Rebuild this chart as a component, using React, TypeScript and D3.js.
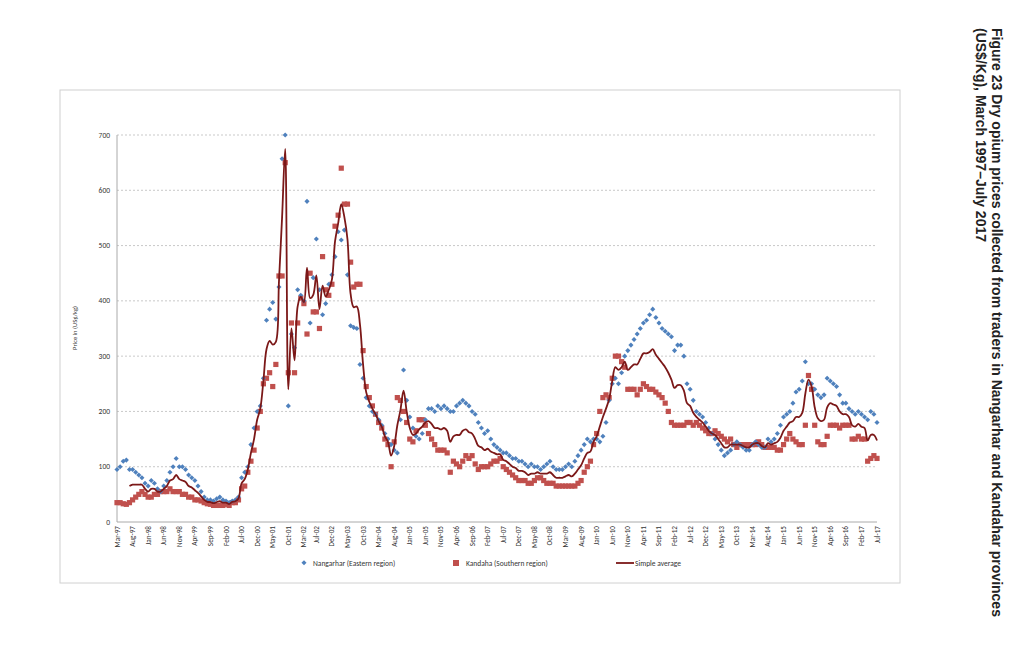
import React from "react";
import * as d3 from "d3";

const nangarhar: (number | null)[] = [
  95,100,110,112,95,95,90,85,80,70,
  65,75,70,60,55,65,75,90,100,115,100,100,
  95,85,80,75,65,55,45,40,40,38,42,45,
  40,38,35,38,40,45,80,90,100,140,170,200,
  210,260,365,385,397,367,425,657,700,210,340,315,
  420,410,400,580,360,442,512,420,375,395,430,447,
  480,525,510,528,447,355,352,350,285,260,225,210,
  200,195,185,175,160,150,140,130,125,185,275,220,
  190,170,155,150,160,185,205,205,200,210,205,210,
  205,200,200,210,215,220,215,210,200,195,180,170,
  160,165,150,140,135,130,125,125,120,115,115,110,
  110,105,100,105,100,100,95,100,105,110,100,95,
  95,95,100,105,100,110,120,130,140,150,145,150,
  150,145,155,180,220,250,260,250,270,300,310,320,
  330,340,350,360,365,375,385,370,360,350,345,340,
  335,310,320,320,300,250,240,220,200,195,190,180,
  170,160,150,140,130,120,125,130,140,145,140,135,
  130,130,140,145,140,135,135,150,145,150,160,175,
  190,195,200,215,235,240,255,290,250,250,240,230,
  225,230,260,255,250,245,230,215,215,205,200,195,
  200,195,190,185,200,195,180,
];
const kandahar: (number | null)[] = [
  35,35,33,32,35,40,45,50,55,50,
  45,45,50,50,55,55,55,60,55,55,55,50,
  50,45,45,40,40,38,35,33,32,30,30,30,
  30,32,30,35,35,40,60,65,90,110,130,170,
  200,250,260,270,245,285,445,445,650,270,360,270,
  360,405,395,340,450,380,380,350,480,420,410,430,
  535,555,640,575,575,470,425,430,430,310,245,225,
  210,195,180,170,150,140,100,145,225,220,200,180,
  150,145,165,185,185,175,160,150,140,130,130,130,
  125,90,110,105,100,110,120,115,120,105,95,100,
  100,100,105,110,110,115,100,95,90,85,80,75,
  75,75,70,70,75,80,80,75,70,70,70,65,
  65,65,65,65,65,65,70,75,90,100,110,140,
  160,200,225,230,225,260,300,300,290,280,240,240,
  240,230,240,250,245,240,240,235,230,225,215,200,
  180,175,175,175,175,180,180,175,180,175,170,165,
  160,160,165,160,155,150,145,150,140,135,140,140,
  140,140,140,140,145,140,135,135,135,135,130,130,
  140,150,160,150,145,140,140,175,265,240,175,145,
  140,140,155,175,175,175,170,175,175,175,150,150,
  155,150,150,110,115,120,115,
];
const xLabels = ["Mar-97","Aug-97","Jan-98","Jun-98","Nov-98","Apr-99","Sep-99","Feb-00","Jul-00","Dec-00","May-01","Oct-01","Mar-02","Jul-02","Dec-02","May-03","Oct-03","Mar-04","Aug-04","Jan-05","Jun-05","Nov-05","Apr-06","Sep-06","Feb-07","Jul-07","Dec-07","May-08","Oct-08","Mar-09","Aug-09","Jan-10","Jun-10","Nov-10","Apr-11","Sep-11","Feb-12","Jul-12","Dec-12","May-13","Oct-13","Mar-14","Aug-14","Jan-15","Jun-15","Nov-15","Apr-16","Sep-16","Feb-17","Jul-17"];
const yTicks = [0,100,200,300,400,500,600,700];
const months = ["Jan","Feb","Mar","Apr","May","Jun","Jul","Aug","Sep","Oct","Nov","Dec"];

const monthIndex = (l: string) => {
  const [m, y] = l.split("-");
  const yr = 1900 + +y + (+y < 50 ? 100 : 0);
  return (yr - 1997) * 12 + months.indexOf(m) - 2;
};

export default function App() {
  const x = d3.scaleLinear().domain([0, 244]).range([117, 877]);
  const y = d3.scaleLinear().domain([0, 700]).range([522, 135]);
  const avg = nangarhar.map((n, i) => {
    const k = kandahar[i];
    return { i, v: n != null && k != null ? (n + k) / 2 : (n ?? k) };
  }).filter(d => d.i >= 4 && d.v != null);
  const line = d3.line<{ i: number; v: number | null }>()
    .x(d => x(d.i)).y(d => y(d.v as number)).curve(d3.curveCatmullRom.alpha(0.5));
  const font = "Calibri, 'Liberation Sans', Arial, sans-serif";
  return (
    <svg width={1024} height={650} style={{ position: "absolute", left: 0, top: 0, background: "#fff" }} fontFamily={font}>
      <rect x={60} y={90} width={840} height={493} fill="#fff" stroke="#d0d0d0" />
      {yTicks.map(t => (
        <g key={t}>
          {t > 0 && <line x1={117} x2={877} y1={y(t)} y2={y(t)} stroke="#bbb" strokeDasharray="2,2" strokeWidth={0.8} />}
          <text x={110} y={y(t) + 2.5} fontSize={7.5} textAnchor="end" fill="#333">{t}</text>
        </g>
      ))}
      <line x1={117} x2={117} y1={135} y2={522} stroke="#aaa" />
      <line x1={117} x2={877} y1={522} y2={522} stroke="#aaa" />
      {xLabels.map(l => (
        <text key={l} transform={`translate(${x(monthIndex(l)) + 2.5},526) rotate(-90)`} fontSize={7.2} textAnchor="end" fill="#333">{l}</text>
      ))}
      <text transform="translate(77,328) rotate(-90)" fontSize={6.5} textAnchor="middle" fill="#333">Price in (US$/kg)</text>
      {kandahar.map((v, i) => v == null ? null : (
        <rect key={"k" + i} x={x(i) - 2.6} y={y(v) - 2.6} width={5.2} height={5.2} fill="#c0504d" />
      ))}
      {nangarhar.map((v, i) => v == null ? null : (
        <rect key={"n" + i} x={x(i) - 1.8} y={y(v) - 1.8} width={3.6} height={3.6} fill="#4f81bd" transform={`rotate(45 ${x(i)} ${y(v)})`} />
      ))}
      <path d={line(avg) || ""} fill="none" stroke="#7b1818" strokeWidth={1.8} />
      <rect x={302} y={561} width={3.6} height={3.6} fill="#4f81bd" transform="rotate(45 304 563)" />
      <text x={313} y={565.5} fontSize={7.5} fill="#333">Nangarhar (Eastern region)</text>
      <rect x={453} y={560} width={6} height={6} fill="#c0504d" />
      <text x={466} y={565.5} fontSize={7.5} fill="#333">Kandaha (Southern region)</text>
      <line x1={616} x2={634} y1={563} y2={563} stroke="#7b1818" strokeWidth={1.8} />
      <text x={635} y={565.5} fontSize={7.5} fill="#333">Simple average</text>
      <g transform="translate(992,28) rotate(90)" fontFamily="'Liberation Sans', Arial, sans-serif" fontWeight="bold" fontSize={14} fill="#222">
        <text x={0} y={0}>Figure 23 Dry opium prices collected from traders in Nangarhar and Kandahar provinces</text>
        <text x={0} y={16}>(US$/Kg), March 1997–July 2017</text>
      </g>
    </svg>
  );
}
